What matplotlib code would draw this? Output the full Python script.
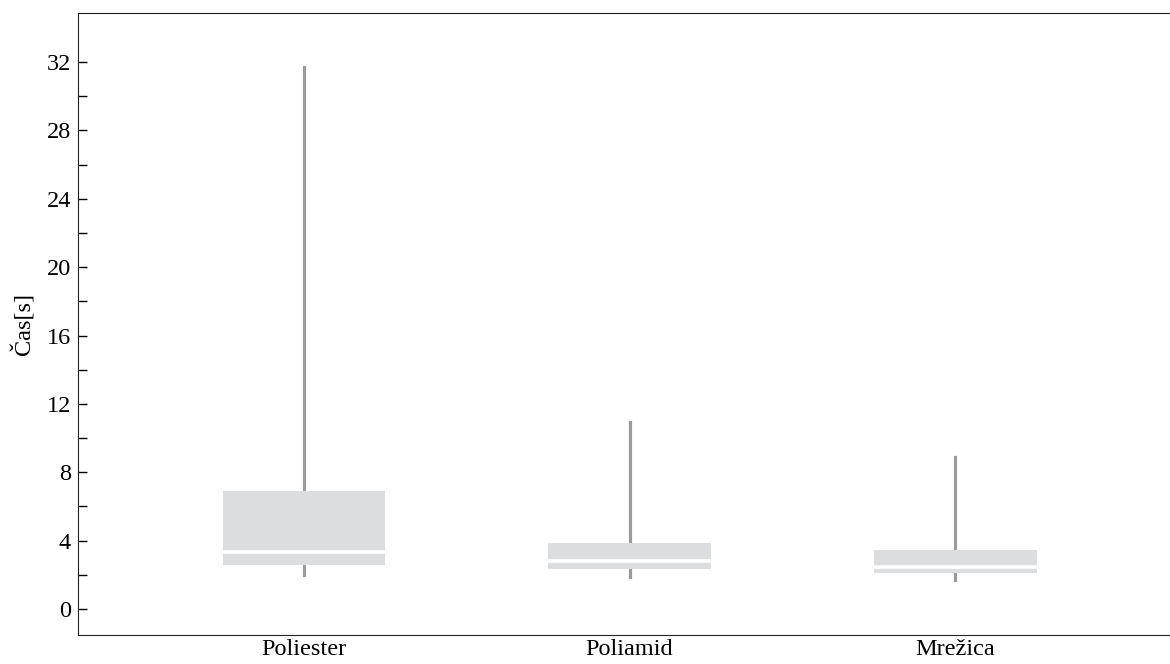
import matplotlib
matplotlib.use("Agg")
import matplotlib.pyplot as plt
from matplotlib.ticker import MultipleLocator, FixedLocator

plt.rcParams['font.family'] = ['Liberation Serif', 'DejaVu Serif']

labels = ["Poliester", "Poliamid", "Mrežica"]
whislo = [1.99, 1.89, 1.68]
q1 = [2.57, 2.34, 2.12]
med = [3.32, 2.81, 2.46]
q3 = [6.89, 3.86, 3.47]
whishi = [31.7, 10.96, 8.87]

stats = []
for i in range(len(labels)):
    stats.append(dict(label=labels[i], whislo=whislo[i], q1=q1[i], med=med[i],
                      q3=q3[i], whishi=whishi[i], fliers=[]))

fig = plt.figure(figsize=(11.7, 6.64), dpi=100)
ax = fig.add_axes([0.0667, 0.0437, 0.9333, 0.9367])

ax.bxp(stats, positions=range(len(labels)), widths=0.5, patch_artist=True,
       showcaps=False, showfliers=False,
       boxprops=dict(facecolor="#dcdddf", edgecolor="none", zorder=3),
       whiskerprops=dict(color="#9b9b9b", linewidth=2.3, zorder=2),
       medianprops=dict(color="white", linewidth=2.6, zorder=4))

ax.set_xlim(-0.694, 2.66)
ax.set_ylim(-1.52, 34.87)
ax.yaxis.set_major_locator(MultipleLocator(4))
ax.yaxis.set_minor_locator(FixedLocator(range(2, 32, 4)))
ax.tick_params(axis="y", which="both", direction="in", length=6.5, width=1,
               labelsize=17.5, pad=5)
ax.tick_params(axis="x", length=0, labelsize=17.5, pad=3)
ax.spines["right"].set_visible(False)
for s in ["left", "top", "bottom"]:
    ax.spines[s].set_color("#222222")
ax.set_ylabel("Čas[s]", fontsize=17.5, labelpad=8)

fig.savefig("out.png", dpi=100)
